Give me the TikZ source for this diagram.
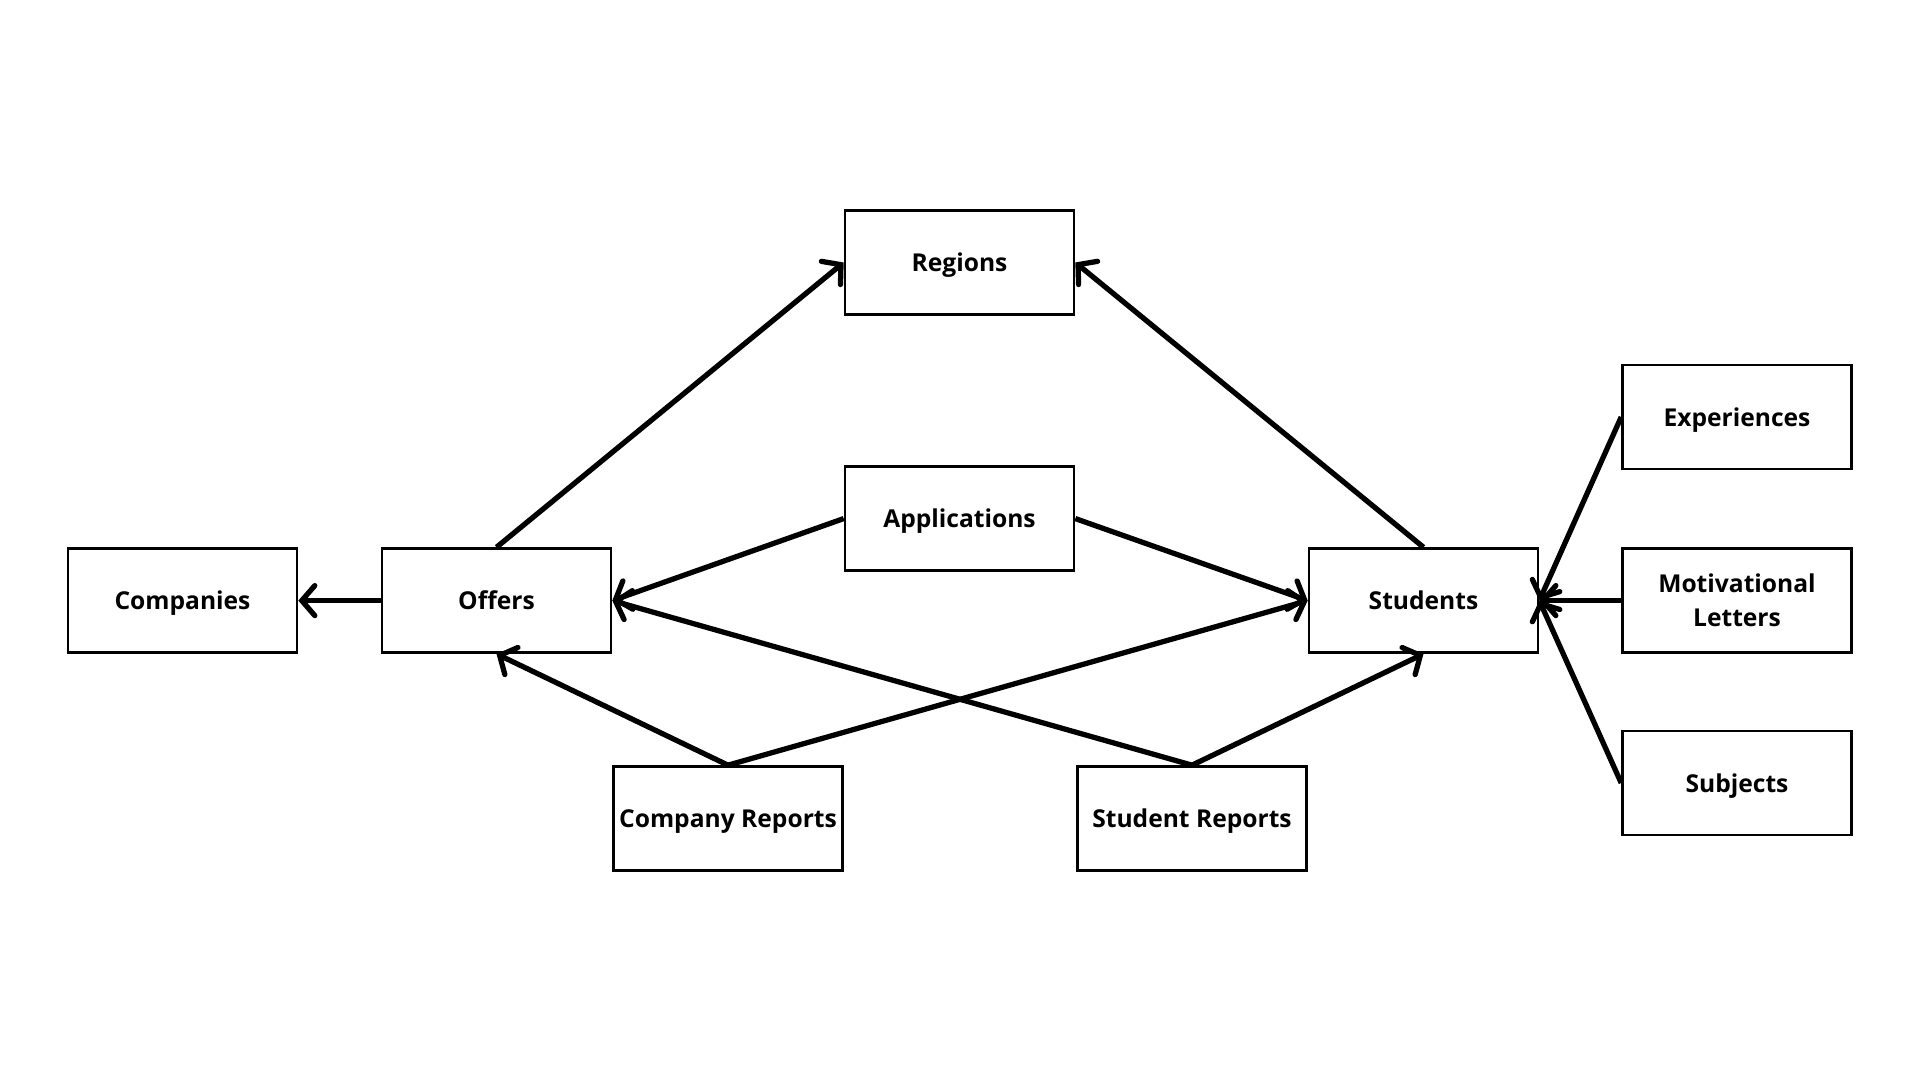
\documentclass[tikz,border=0pt]{standalone}
\usepackage{fontspec}
\setmainfont{Open Sans}
\usepackage{tikz}
\usetikzlibrary{arrows.meta}

\begin{document}
\begin{tikzpicture}[
    entity/.style={draw, line width=0.75pt, minimum width=2.29cm, minimum height=1.04cm,
      inner sep=0pt, align=center, font=\fontsize{7}{9.6}\selectfont\bfseries},
    oneline/.style={entity, text height=5.3pt, text depth=0pt},
    link/.style={line width=1.5pt, -{Straight Barb[length=1.3mm,width=3mm,line cap=round]}}
  ]
    \useasboundingbox (0,0) rectangle (19.2,10.8);

    \node[oneline] (R)  at ( 9.595, 8.175) {Regions};
    \node[oneline] (AP) at ( 9.595, 5.614) {Applications};
    \node[oneline] (CO) at ( 1.825, 4.794) {Companies};
    \node[oneline] (OF) at ( 4.965, 4.794) {Offers};
    \node[oneline] (ST) at (14.235, 4.794) {Students};
    \node[oneline] (EX) at (17.37, 6.63) {Experiences};
    \node[entity]  (ML) at (17.37, 4.794) {Motivational\\Letters};
    \node[oneline] (SU) at (17.37, 2.97) {Subjects};
    \node[oneline] (CR) at ( 7.28, 2.615) {Company Reports};
    \node[oneline] (SR) at (11.92, 2.615) {Student Reports};

    \draw[link] (OF.west) -- (CO.east);
    \draw[link] (OF.north) -- (R.west);
    \draw[link] (ST.north) -- (R.east);
    \draw[link] (AP.west) -- (OF.east);
    \draw[link] (AP.east) -- (ST.west);
    \draw[link] (CR.north) -- (OF.south);
    \draw[link] (CR.north) -- (ST.west);
    \draw[link] (SR.north) -- (OF.east);
    \draw[link] (SR.north) -- (ST.south);
    \draw[link] (EX.west) -- (ST.east);
    \draw[link] (ML.west) -- (ST.east);
    \draw[link] (SU.west) -- (ST.east);
  \end{tikzpicture}
\end{document}
